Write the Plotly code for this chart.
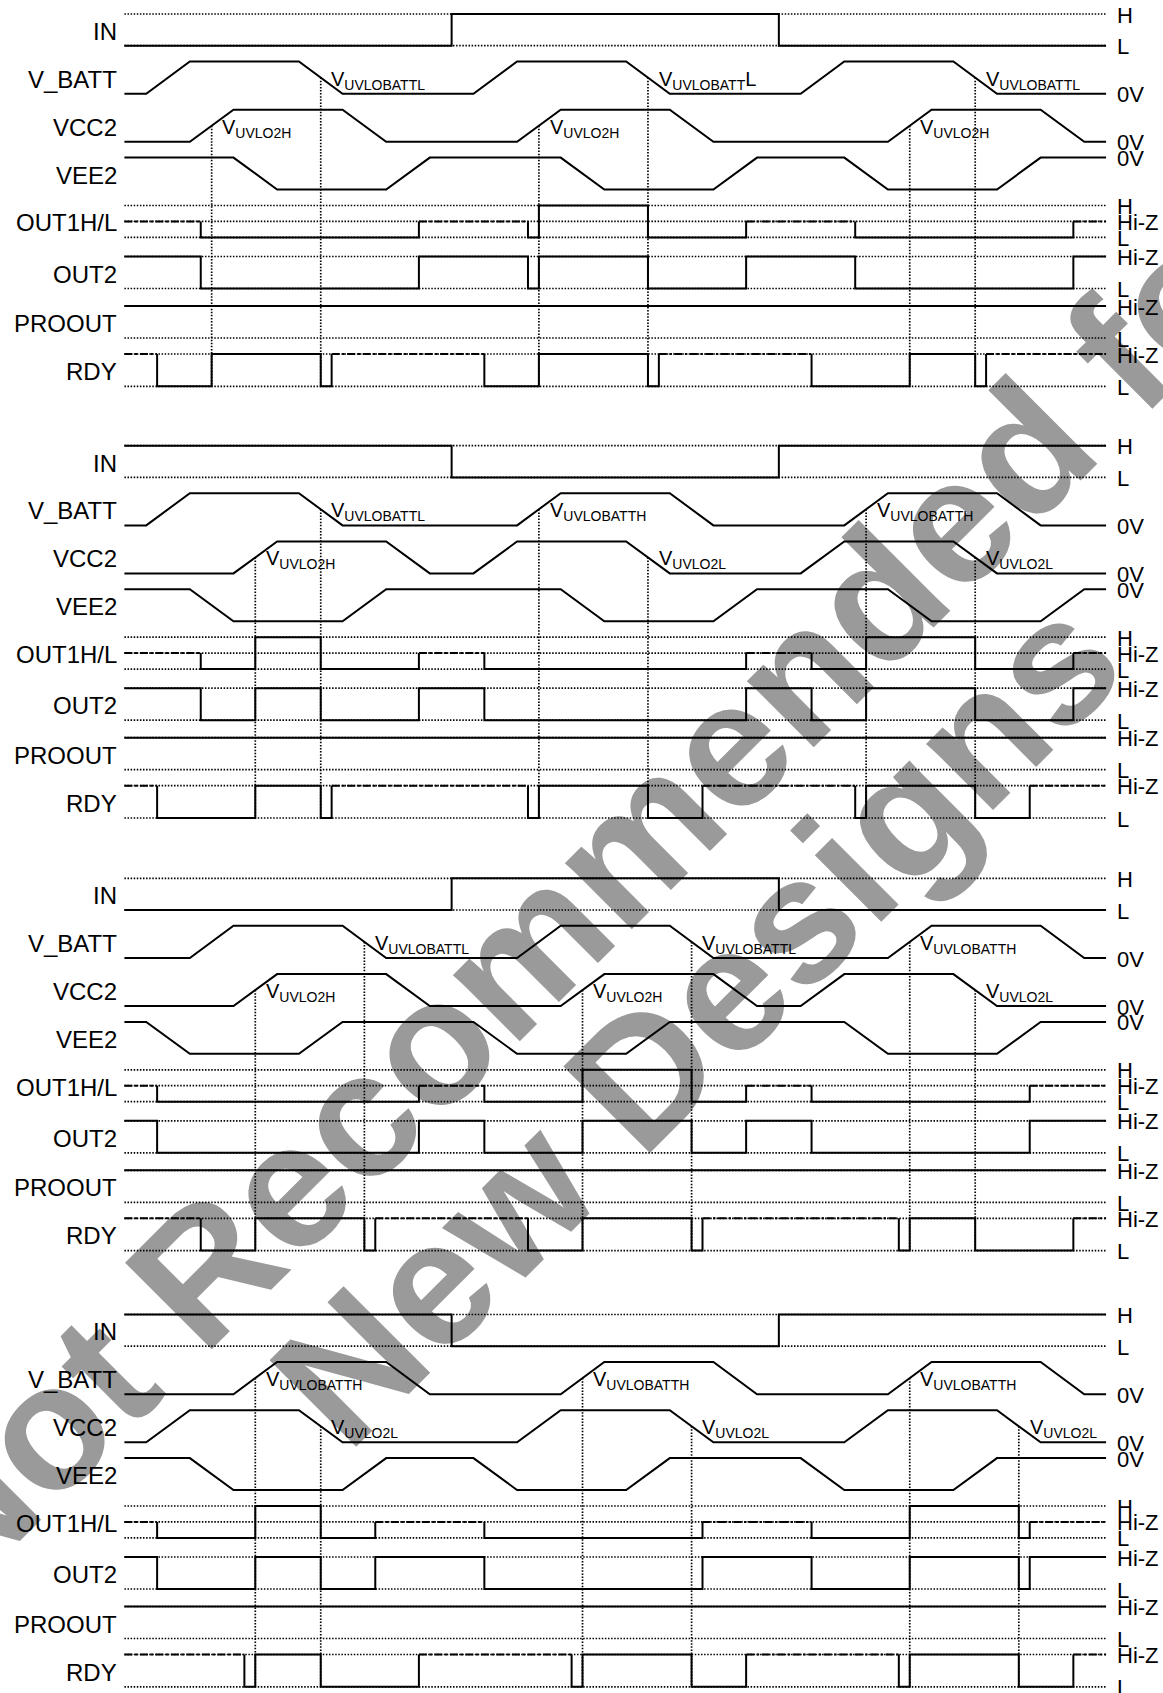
import plotly.graph_objects as go

# ====================== DATA ======================
T_END = 22.5
ROWS = ["IN", "V_BATT", "VCC2", "VEE2", "OUT1H/L", "OUT2", "PROOUT", "RDY"]

# analog signals: (time, level) with 1 = upper rail, 0 = lower rail
# digital signals: (start time, state); H/L, Z = Hi-Z (dash-dot for OUT1H/L and RDY), S = Hi-Z drawn solid
# events: (time, crossing signal, subscript, trailing text)

# ---- Panel 1 ----
P1_IN = [(0, "L"), (7.5, "H"), (15, "L")]
P1_VBATT = [(0, 0), (0.5, 0), (1.5, 1), (4, 1), (5, 0), (8, 0), (9, 1), (11.5, 1), (12.5, 0), (15.5, 0), (16.5, 1), (19, 1), (20, 0), (22.5, 0)]
P1_VCC2 = [(0, 0), (1.5, 0), (2.5, 1), (5, 1), (6, 0), (9, 0), (10, 1), (12.5, 1), (13.5, 0), (17.5, 0), (18.5, 1), (21, 1), (22, 0), (22.5, 0)]
P1_VEE2 = [(0, 1), (2.5, 1), (3.5, 0), (6, 0), (7, 1), (10, 1), (11, 0), (13.5, 0), (14.5, 1), (16.5, 1), (17.5, 0), (20, 0), (21, 1), (22.5, 1)]
P1_OUT1 = [(0, "Z"), (1.75, "L"), (6.75, "Z"), (9.25, "L"), (9.5, "H"), (12, "L"), (14.25, "Z"), (16.75, "L"), (21.75, "Z")]
P1_OUT2 = [(0, "Z"), (1.75, "L"), (6.75, "Z"), (9.25, "L"), (9.5, "Z"), (12, "L"), (14.25, "Z"), (16.75, "L"), (21.75, "Z")]
P1_PROOUT = [(0, "Z")]
P1_RDY = [(0, "Z"), (0.75, "L"), (2, "S"), (4.5, "L"), (4.75, "Z"), (8.25, "L"), (9.5, "S"), (12, "L"), (12.25, "Z"), (15.75, "L"), (18, "S"), (19.5, "L"), (19.75, "Z")]
P1_EVENTS = [(2.0, "VCC2", "UVLO2H", ""), (4.5, "V_BATT", "UVLOBATTL", ""), (9.5, "VCC2", "UVLO2H", ""),
             (12.0, "V_BATT", "UVLOBATT", "L"), (18.0, "VCC2", "UVLO2H", ""), (19.5, "V_BATT", "UVLOBATTL", "")]

# ---- Panel 2 ----
P2_IN = [(0, "H"), (7.5, "L"), (15, "H")]
P2_VBATT = [(0, 0), (0.5, 0), (1.5, 1), (4, 1), (5, 0), (9, 0), (10, 1), (12.5, 1), (13.5, 0), (16.5, 0), (17.5, 1), (20, 1), (21, 0), (22.5, 0)]
P2_VCC2 = [(0, 0), (2.5, 0), (3.5, 1), (6, 1), (7, 0), (8, 0), (9, 1), (11.5, 1), (12.5, 0), (15.5, 0), (16.5, 1), (19, 1), (20, 0), (22.5, 0)]
P2_VEE2 = [(0, 1), (1.5, 1), (2.5, 0), (5, 0), (6, 1), (10, 1), (11, 0), (13.5, 0), (14.5, 1), (17.5, 1), (18.5, 0), (21, 0), (22, 1), (22.5, 1)]
P2_OUT1 = [(0, "Z"), (1.75, "L"), (3, "H"), (4.5, "L"), (6.75, "Z"), (8.25, "L"), (14.25, "Z"), (15.75, "L"), (17, "H"), (19.5, "L"), (21.75, "Z")]
P2_OUT2 = [(0, "Z"), (1.75, "L"), (3, "Z"), (4.5, "L"), (6.75, "Z"), (8.25, "L"), (14.25, "Z"), (15.75, "L"), (17, "Z"), (19.5, "L"), (21.75, "Z")]
P2_PROOUT = [(0, "Z")]
P2_RDY = [(0, "Z"), (0.75, "L"), (3, "S"), (4.5, "L"), (4.75, "Z"), (9.25, "L"), (9.5, "S"), (12, "L"), (13.25, "Z"), (16.75, "L"), (17, "S"), (19.5, "L"), (20.75, "Z")]
P2_EVENTS = [(3.0, "VCC2", "UVLO2H", ""), (4.5, "V_BATT", "UVLOBATTL", ""), (9.5, "V_BATT", "UVLOBATTH", ""),
             (12.0, "VCC2", "UVLO2L", ""), (17.0, "V_BATT", "UVLOBATTH", ""), (19.5, "VCC2", "UVLO2L", "")]

# ---- Panel 3 ----
P3_IN = [(0, "L"), (7.5, "H"), (15, "L")]
P3_VBATT = [(0, 0), (1.5, 0), (2.5, 1), (5, 1), (6, 0), (9, 0), (10, 1), (12.5, 1), (13.5, 0), (17.5, 0), (18.5, 1), (21, 1), (22, 0), (22.5, 0)]
P3_VCC2 = [(0, 0), (2.5, 0), (3.5, 1), (6, 1), (7, 0), (10, 0), (11, 1), (13.5, 1), (14.5, 0), (15.5, 0), (16.5, 1), (19, 1), (20, 0), (22.5, 0)]
P3_VEE2 = [(0, 1), (0.5, 1), (1.5, 0), (4, 0), (5, 1), (8, 1), (9, 0), (11.5, 0), (12.5, 1), (16.5, 1), (17.5, 0), (20, 0), (21, 1), (22.5, 1)]
P3_OUT1 = [(0, "Z"), (0.75, "L"), (6.75, "Z"), (8.25, "L"), (10.5, "H"), (13, "L"), (14.25, "Z"), (15.75, "L"), (20.75, "Z")]
P3_OUT2 = [(0, "Z"), (0.75, "L"), (6.75, "Z"), (8.25, "L"), (10.5, "Z"), (13, "L"), (14.25, "Z"), (15.75, "L"), (20.75, "Z")]
P3_PROOUT = [(0, "Z")]
P3_RDY = [(0, "Z"), (1.75, "L"), (3, "S"), (5.5, "L"), (5.75, "Z"), (9.25, "L"), (10.5, "S"), (13, "L"), (13.25, "Z"), (17.75, "L"), (18, "S"), (19.5, "L"), (21.75, "Z")]
P3_EVENTS = [(3.0, "VCC2", "UVLO2H", ""), (5.5, "V_BATT", "UVLOBATTL", ""), (10.5, "VCC2", "UVLO2H", ""),
             (13.0, "V_BATT", "UVLOBATTL", ""), (18.0, "V_BATT", "UVLOBATTH", ""), (19.5, "VCC2", "UVLO2L", "")]

# ---- Panel 4 ----
P4_IN = [(0, "H"), (7.5, "L"), (15, "H")]
P4_VBATT = [(0, 0), (2.5, 0), (3.5, 1), (6, 1), (7, 0), (10, 0), (11, 1), (13.5, 1), (14.5, 0), (17.5, 0), (18.5, 1), (21, 1), (22, 0), (22.5, 0)]
P4_VCC2 = [(0, 0), (0.5, 0), (1.5, 1), (4, 1), (5, 0), (9, 0), (10, 1), (12.5, 1), (13.5, 0), (16.5, 0), (17.5, 1), (20, 1), (21, 0), (22.5, 0)]
P4_VEE2 = [(0, 1), (1.5, 1), (2.5, 0), (5, 0), (6, 1), (8, 1), (9, 0), (11.5, 0), (12.5, 1), (15.5, 1), (16.5, 0), (19, 0), (20, 1), (22.5, 1)]
P4_OUT1 = [(0, "Z"), (0.75, "L"), (3, "H"), (4.5, "L"), (5.75, "Z"), (8.25, "L"), (13.25, "Z"), (15.75, "L"), (18, "H"), (20.5, "L"), (20.75, "Z")]
P4_OUT2 = [(0, "Z"), (0.75, "L"), (3, "Z"), (4.5, "L"), (5.75, "Z"), (8.25, "L"), (13.25, "Z"), (15.75, "L"), (18, "Z"), (20.5, "L"), (20.75, "Z")]
P4_PROOUT = [(0, "Z")]
P4_RDY = [(0, "Z"), (2.75, "L"), (3, "S"), (4.5, "L"), (6.75, "Z"), (10.25, "L"), (10.5, "S"), (13, "L"), (14.25, "Z"), (17.75, "L"), (18, "S"), (20.5, "L"), (21.75, "Z")]
P4_EVENTS = [(3.0, "V_BATT", "UVLOBATTH", ""), (4.5, "VCC2", "UVLO2L", ""), (10.5, "V_BATT", "UVLOBATTH", ""),
             (13.0, "VCC2", "UVLO2L", ""), (18.0, "V_BATT", "UVLOBATTH", ""), (20.5, "VCC2", "UVLO2L", "")]

WATERMARK = ["Not Recommended for", "New Designs"]

# ====================== LAYOUT / STYLE ======================
W, H = 1163, 1693
X0_PX, UNIT_PX = 124.4, 43.63            # time 0 position and px per time unit
PANEL_TOP = [14.0, 445.7, 878.3, 1314.5]
LEVEL = {
    "IN": {"H": 0.0, "L": 31.7},
    "V_BATT": {1: 47.5, 0: 79.7},
    "VCC2": {1: 95.8, 0: 127.7},
    "VEE2": {1: 143.6, 0: 175.5},
    "OUT1H/L": {"H": 191.5, "Z": 207.4, "L": 223.4},
    "OUT2": {"Z": 242.5, "L": 274.5},
    "PROOUT": {"Z": 292.0, "L": 324.0},
    "RDY": {"Z": 340.0, "S": 340.0, "L": 372.3},
}
DASHED = {"OUT1H/L": {"Z"}, "RDY": {"Z"}}
REF_LEVELS = {"IN": ["H", "L"], "OUT1H/L": ["H", "Z", "L"], "OUT2": ["Z", "L"],
              "PROOUT": ["Z", "L"], "RDY": ["Z", "L"]}
RIGHT_LABELS = {"IN": [("H", "H"), ("L", "L")], "V_BATT": [(0, "0V")], "VCC2": [(0, "0V")],
                "VEE2": [(1, "0V")], "OUT1H/L": [("H", "H"), ("Z", "Hi-Z"), ("L", "L")],
                "OUT2": [("Z", "Hi-Z"), ("L", "L")], "PROOUT": [("Z", "Hi-Z"), ("L", "L")],
                "RDY": [("Z", "Hi-Z"), ("L", "L")]}
FONT = "Liberation Sans, Arial, Helvetica, sans-serif"
BLACK = "#000000"
DOT = "1.5px,1.6px"
DASHDOT = "8px,2.5px,2.5px,2.5px"
WM_COLOR = "#9a9a9a"
WM_CENTERS_PX = [(578, 872), (684, 1008)]
WM_SIZE = 178

PANELS = [
    dict(IN=P1_IN, V_BATT=P1_VBATT, VCC2=P1_VCC2, VEE2=P1_VEE2, OUT1=P1_OUT1, OUT2=P1_OUT2, PROOUT=P1_PROOUT, RDY=P1_RDY, EV=P1_EVENTS),
    dict(IN=P2_IN, V_BATT=P2_VBATT, VCC2=P2_VCC2, VEE2=P2_VEE2, OUT1=P2_OUT1, OUT2=P2_OUT2, PROOUT=P2_PROOUT, RDY=P2_RDY, EV=P2_EVENTS),
    dict(IN=P3_IN, V_BATT=P3_VBATT, VCC2=P3_VCC2, VEE2=P3_VEE2, OUT1=P3_OUT1, OUT2=P3_OUT2, PROOUT=P3_PROOUT, RDY=P3_RDY, EV=P3_EVENTS),
    dict(IN=P4_IN, V_BATT=P4_VBATT, VCC2=P4_VCC2, VEE2=P4_VEE2, OUT1=P4_OUT1, OUT2=P4_OUT2, PROOUT=P4_PROOUT, RDY=P4_RDY, EV=P4_EVENTS),
]


def px_to_t(px):
    return (px - X0_PX) / UNIT_PX


def digital_paths(segs, row, top):
    dashed = DASHED.get(row, set())
    bounds = [s[0] for s in segs] + [T_END]
    sx, sy, dx, dy = [], [], [], []
    cur = []
    prev_y = None
    for i, (t0, st) in enumerate(segs):
        t1 = bounds[i + 1]
        y = top + LEVEL[row][st]
        if st in dashed:
            if cur:
                cur.append((t0, y))
                for p in cur:
                    sx.append(p[0]); sy.append(p[1])
                sx.append(None); sy.append(None)
                cur = []
            dx += [t0, t1, None]; dy += [y, y, None]
        else:
            if not cur and prev_y is not None:
                cur.append((t0, prev_y))
            cur.append((t0, y))
            cur.append((t1, y))
        prev_y = y
    if cur:
        for p in cur:
            sx.append(p[0]); sy.append(p[1])
        sx.append(None); sy.append(None)
    return sx, sy, dx, dy


fig = go.Figure()
annotations = []

ref_x, ref_y = [], []
ev_x, ev_y = [], []
sol_x, sol_y = [], []
dd_x, dd_y = [], []

for p, pdata in enumerate(PANELS):
    top = PANEL_TOP[p]
    # reference dotted levels
    for row, lvls in REF_LEVELS.items():
        for lv in lvls:
            y = top + LEVEL[row][lv]
            ref_x += [0, T_END, None]; ref_y += [y, y, None]
    # analog
    for row in ["V_BATT", "VCC2", "VEE2"]:
        for t, lv in pdata[row]:
            sol_x.append(t); sol_y.append(top + LEVEL[row][lv])
        sol_x.append(None); sol_y.append(None)
    # digital
    for row, key in [("IN", "IN"), ("OUT1H/L", "OUT1"), ("OUT2", "OUT2"), ("PROOUT", "PROOUT"), ("RDY", "RDY")]:
        sx, sy, dx, dy = digital_paths(pdata[key], row, top)
        sol_x += sx; sol_y += sy; dd_x += dx; dd_y += dy
    # events
    for t, src, sub, tail in pdata["EV"]:
        ymid = top + (LEVEL[src][0] + LEVEL[src][1]) / 2
        ev_x += [t, t, None]; ev_y += [ymid, top + LEVEL["RDY"]["L"], None]
        annotations.append(dict(x=t + 0.2, y=ymid + 2.5, xref="x", yref="y",
                                text="V<sub>%s</sub>%s" % (sub, tail), showarrow=False,
                                xanchor="left", yanchor="middle",
                                font=dict(family=FONT, size=20, color=BLACK)))
    # left labels
    for row in ROWS:
        lv = LEVEL[row]
        ymid = top + (min(lv.values()) + max(lv.values())) / 2 + 1.5
        if row == "OUT1H/L":
            ymid = top + lv["Z"] + 1.5
        annotations.append(dict(x=px_to_t(119), y=ymid, xref="x", yref="y", text=row,
                                showarrow=False, xanchor="right", yanchor="middle",
                                font=dict(family=FONT, size=24, color=BLACK)))
    # right labels
    for row, labs in RIGHT_LABELS.items():
        for lv, txt in labs:
            annotations.append(dict(x=px_to_t(1115), y=top + LEVEL[row][lv] + 1, xref="x", yref="y",
                                    text=txt, showarrow=False, xanchor="left", yanchor="middle",
                                    font=dict(family=FONT, size=22, color=BLACK)))

fig.add_trace(go.Scatter(x=ref_x, y=ref_y, mode="lines", hoverinfo="skip",
                         line=dict(color="#000000", width=1.7, dash=DOT)))
fig.add_trace(go.Scatter(x=ev_x, y=ev_y, mode="lines", hoverinfo="skip",
                         line=dict(color="#000000", width=1.7, dash=DOT)))
fig.add_trace(go.Scatter(x=dd_x, y=dd_y, mode="lines", hoverinfo="skip",
                         line=dict(color=BLACK, width=2, dash=DASHDOT)))
fig.add_trace(go.Scatter(x=sol_x, y=sol_y, mode="lines", hoverinfo="skip",
                         line=dict(color=BLACK, width=2)))

# watermark (drawn below the traces)
for txt, (cx, cy) in zip(WATERMARK, WM_CENTERS_PX):
    fig.add_shape(type="line", xref="paper", yref="paper",
                  x0=(cx - 100) / W, y0=1 - (cy + 100) / H,
                  x1=(cx + 100) / W, y1=1 - (cy - 100) / H,
                  line=dict(color="rgba(0,0,0,0)", width=1), layer="below",
                  label=dict(text=txt, textposition="middle", textangle=-45,
                             xanchor="center", yanchor="middle", padding=0,
                             font=dict(family=FONT, size=WM_SIZE, color=WM_COLOR, weight="bold")))

fig.update_layout(
    width=W, height=H, margin=dict(l=0, r=0, t=0, b=0),
    paper_bgcolor="white", plot_bgcolor="white", showlegend=False, hovermode=False,
    annotations=annotations,
    xaxis=dict(range=[px_to_t(0), px_to_t(W)], visible=False, fixedrange=True),
    yaxis=dict(range=[H, 0], visible=False, fixedrange=True),
)

fig.write_html("out.html", config={"displayModeBar": False, "staticPlot": True},
               post_script="document.body.style.margin='0';document.body.style.overflow='hidden';")
